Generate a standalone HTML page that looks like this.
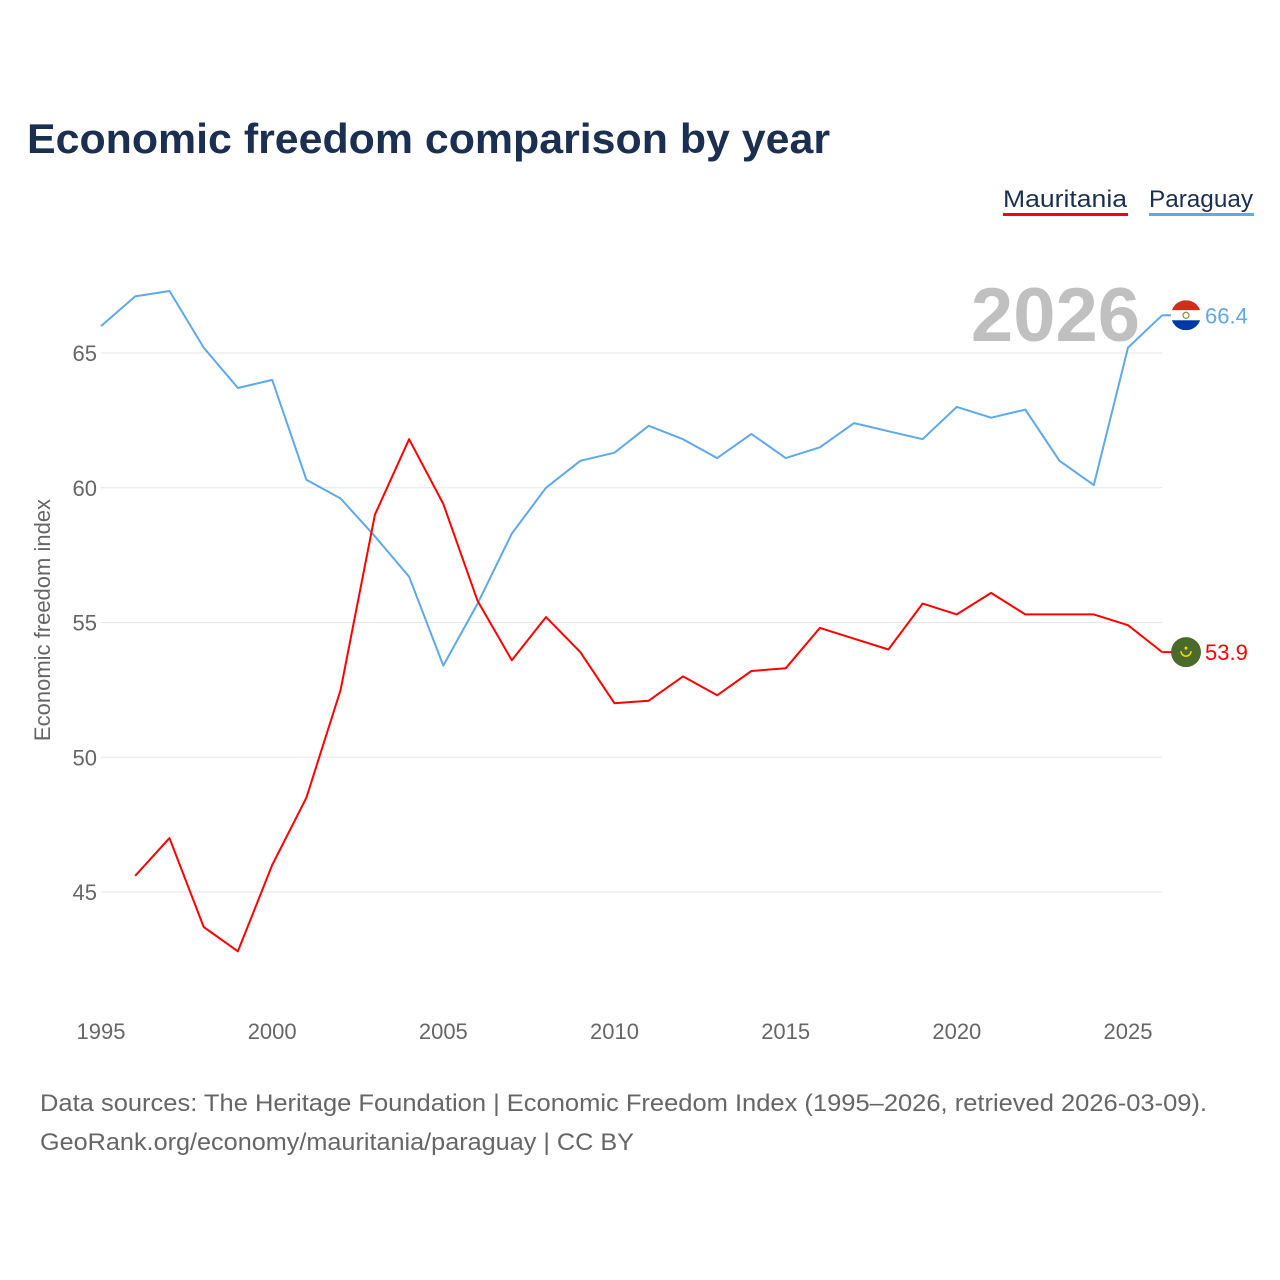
<!DOCTYPE html>
<html><head><meta charset="utf-8"><style>
body{margin:0;background:#fff;font-family:"Liberation Sans",sans-serif;}
svg{display:block}
</style></head><body>
<svg width="1280" height="1280" id="svg">
<text x="27" y="153" font-size="42" font-weight="bold" fill="#1b2f50" textLength="803" lengthAdjust="spacingAndGlyphs">Economic freedom comparison by year</text>
<g>
<text x="1003" y="207" font-size="24" fill="#1b2f50" textLength="124" lengthAdjust="spacingAndGlyphs">Mauritania</text>
<rect x="1003" y="213" width="125" height="3" fill="#ff0000"/>
<text x="1149" y="207" font-size="24" fill="#1b2f50" textLength="104" lengthAdjust="spacingAndGlyphs">Paraguay</text>
<rect x="1149" y="213" width="105" height="3" fill="#5fa8ea"/>
</g>
<text x="1140" y="341" font-size="76" font-weight="bold" fill="#c0c0c0" text-anchor="end">2026</text>
<text transform="translate(50,620) rotate(-90)" font-size="22" fill="#666" text-anchor="middle">Economic freedom index</text>
<g id="grid"></g>
<g id="lines"></g>
<text x="40" y="1111" font-size="24" fill="#666" textLength="1167" lengthAdjust="spacingAndGlyphs">Data sources: The Heritage Foundation | Economic Freedom Index (1995–2026, retrieved 2026-03-09).</text>
<text x="40" y="1150" font-size="24" fill="#666" textLength="594" lengthAdjust="spacingAndGlyphs">GeoRank.org/economy/mauritania/paraguay | CC BY</text>
</svg>
<script>
const years=[1995,1996,1997,1998,1999,2000,2001,2002,2003,2004,2005,2006,2007,2008,2009,2010,2011,2012,2013,2014,2015,2016,2017,2018,2019,2020,2021,2022,2023,2024,2025,2026];
const paraguay=[66.0,67.1,67.3,65.2,63.7,64.0,60.3,59.6,58.2,56.7,53.4,55.7,58.3,60.0,61.0,61.3,62.3,61.8,61.1,62.0,61.1,61.5,62.4,62.1,61.8,63.0,62.6,62.9,61.0,60.1,65.2,66.4];
const mauritania=[null,45.6,47.0,43.7,42.8,46.0,48.5,52.5,59.0,61.8,59.4,55.8,53.6,55.2,53.9,52.0,52.1,53.0,52.3,53.2,53.3,54.8,54.4,54.0,55.7,55.3,56.1,55.3,55.3,55.3,54.9,53.9];
const yTicks=[45,50,55,60,65];
const xTicks=[1995,2000,2005,2010,2015,2020,2025];
const NS='http://www.w3.org/2000/svg';
const X=y=>101+(y-1995)*(1128-101)/30;
const Y=v=>353+(65-v)*26.95;
const grid=document.getElementById('grid'),lines=document.getElementById('lines');
function mk(t,a,p){const e=document.createElementNS(NS,t);for(const k in a)e.setAttribute(k,a[k]);p.appendChild(e);return e;}
yTicks.forEach(v=>{
 const l=mk('line',{x1:101,x2:1162,y1:Y(v),y2:Y(v),stroke:'#e6e6e6','stroke-width':1},grid);
 
 
 const t=mk('text',{x:97,y:Y(v)+8,'font-size':22,fill:'#666','text-anchor':'end'},grid);
 t.textContent=v;
 
 
});
xTicks.forEach(v=>{
 const t=mk('text',{x:X(v),y:1039,'font-size':22,fill:'#666','text-anchor':'middle'},grid);
 t.textContent=v;
 
 
});
function series(vals,color,name){
 const pts=[];vals.forEach((v,i)=>{if(v!=null)pts.push(X(years[i]).toFixed(1)+','+Y(v).toFixed(1));});
 const p=mk('polyline',{points:pts.join(' '),fill:'none',stroke:color,'stroke-width':2,'stroke-linejoin':'round'},lines);
 
 
 const last=vals[vals.length-1],y=Y(last),x=X(years[years.length-1]);
 mk('line',{x1:x,x2:x+10,y1:y,y2:y,stroke:color,'stroke-width':2},lines);
 const t=mk('text',{x:1205,y:y+8,'font-size':22,fill:color},lines);
 t.textContent=last.toFixed(1);
 
 
 return y;
}
const yp=series(paraguay,'#5fa8ea','paraguay');
const ym=series(mauritania,'#ff0000','mauritania');
const fp=mk('g',{},lines);


const cp=mk('clipPath',{id:'cp'},fp);
mk('circle',{cx:1186,cy:yp,r:15},cp);
mk('rect',{x:1171,y:yp-15,width:30,height:10,fill:'#d52b1e','clip-path':'url(#cp)'},fp);
mk('rect',{x:1171,y:yp-5,width:30,height:10,fill:'#fff','clip-path':'url(#cp)'},fp);
mk('rect',{x:1171,y:yp+5,width:30,height:10,fill:'#0038a8','clip-path':'url(#cp)'},fp);
mk('circle',{cx:1186,cy:yp,r:3,fill:'none',stroke:'#7a9a3a','stroke-width':1.2},fp);
const fm=mk('g',{},lines);


mk('circle',{cx:1186,cy:ym,r:15,fill:'#4a6b2a'},fm);
mk('path',{d:`M1181 ${ym-1} A5 5 0 0 0 1191 ${ym-1}`,fill:'none',stroke:'#ffd700','stroke-width':1.5},fm);
mk('circle',{cx:1186,cy:ym-4,r:1.5,fill:'#ffd700'},fm);
</script>
</body></html>
